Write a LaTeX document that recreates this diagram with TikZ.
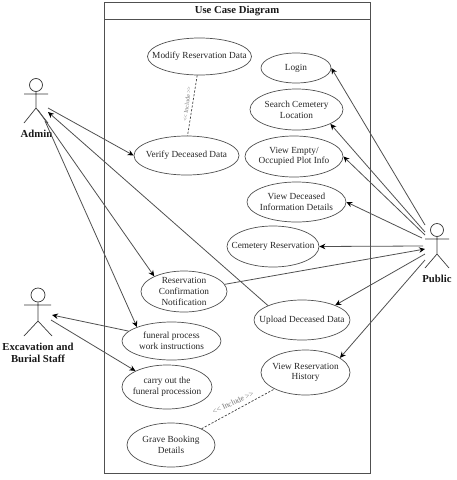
\documentclass[tikz,border=0pt]{standalone}
\usepackage{fontspec}
\setmainfont{Liberation Serif}
\usetikzlibrary{shapes.geometric,arrows.meta}
\definecolor{ln}{HTML}{505050}
\tikzset{
  uc/.style={draw=ln,line width=0.7pt,ellipse,inner sep=0pt},
  uctext/.style={align=center,inner sep=0pt,font=\fontsize{9.3}{10.8}\selectfont,text=black!85},
  actorline/.style={draw=ln!70!black,line width=0.7pt},
  actorname/.style={font=\bfseries\fontsize{10.7}{12}\selectfont,align=center,inner sep=0pt,text=black!90},
  assoc/.style={draw=ln,line width=0.8pt,-{Stealth[length=6pt,width=5.5pt,color=black]}},
  incl/.style={draw=ln!80!black,line width=0.7pt,dash pattern=on 2.2pt off 1.6pt},
  incltext/.style={text=black!55,inner sep=0pt},
}
\newcommand{\ucnode}[6]{\node[uc,minimum width=#3pt,minimum height=#4pt,label={[uctext]center:{#6}}] (#1) at (#2) {};}
\begin{document}
\begin{tikzpicture}[x=1pt,y=-1pt]
\useasboundingbox (0,0) rectangle (457,480);
% system frame
\node[draw=ln,line width=0.8pt,minimum width=266pt,minimum height=470.5pt,inner sep=0pt] (frame) at (237,237.75) {};
\node[draw=ln,line width=0.8pt,minimum width=266pt,minimum height=16.5pt,inner sep=0pt,font=\bfseries\fontsize{10.7}{12}\selectfont,text=black!90] (title) at (237,10.75) {Use Case Diagram};
% use cases
\ucnode{modify}{199.5,56.5}{104}{37}{}{Modify Reservation Data}
\ucnode{login}{296,68}{70}{30}{}{Login}
\ucnode{search}{296.5,109.5}{93}{41}{}{Search Cemetery\\Location}
\ucnode{empty}{294,156.5}{98}{41}{}{View Empty/\\Occupied Plot Info}
\ucnode{deceased}{296.5,202}{99}{40}{}{View Deceased\\Information Details}
\ucnode{cemetery}{273,246.5}{92}{41}{}{Cemetery Reservation}
\ucnode{verify}{186.5,155.5}{105}{39}{}{Verify Deceased Data}
\ucnode{confirm}{184,291.5}{86}{41}{}{Reservation\\Confirmation\\Notification}
\ucnode{instr}{171.5,341}{99}{38}{}{funeral process\\work instructions}
\ucnode{carry}{167,387}{90}{44}{}{carry out the\\funeral procession}
\ucnode{grave}{171,445}{88}{44}{}{Grave Booking\\Details}
\ucnode{upload}{302,320}{96}{40}{}{Upload Deceased Data}
\ucnode{history}{305.5,372.5}{89}{45}{}{View Reservation\\History}
% actors
\node[draw=ln!70!black,line width=0.7pt,circle,minimum size=13pt,inner sep=0pt] (adminhead) at (36,85) {};
\coordinate (adminarmL) at (24,94);
\coordinate (adminarmR) at (48,94);
\coordinate (adminhip) at (36,108);
\coordinate (adminlegL) at (24,123);
\coordinate (adminlegR) at (48,123);
\draw[actorline] (adminhead) -- (adminhip) (adminarmL) -- (adminarmR) (adminlegL) -- (adminhip) -- (adminlegR);
\node[actorname] (adminname) at (36.5,134) {Admin};
\node[draw=ln!70!black,line width=0.7pt,circle,minimum size=14pt,inner sep=0pt] (staffhead) at (38,295) {};
\coordinate (staffarmL) at (24,305);
\coordinate (staffarmR) at (51,305);
\coordinate (staffhip) at (38,321);
\coordinate (stafflegL) at (24,336);
\coordinate (stafflegR) at (52,336);
\draw[actorline] (staffhead) -- (staffhip) (staffarmL) -- (staffarmR) (stafflegL) -- (staffhip) -- (stafflegR);
\node[actorname] (staffname) at (38,353) {Excavation and\\Burial Staff};
\node[draw=ln!70!black,line width=0.7pt,circle,minimum size=13pt,inner sep=0pt] (pubhead) at (437,230) {};
\coordinate (pubarmL) at (425,239);
\coordinate (pubarmR) at (449,239);
\coordinate (pubhip) at (437,254);
\coordinate (publegL) at (425,268);
\coordinate (publegR) at (449,268);
\draw[actorline] (pubhead) -- (pubhip) (pubarmL) -- (pubarmR) (publegL) -- (pubhip) -- (publegR);
\node[actorname] (pubname) at (437,278.5) {Public};
% connector ends at the actors
\coordinate (a1) at (48,108);
\coordinate (a2) at (48,112);
\coordinate (a3) at (38,110);
\coordinate (a4) at (45,121);
\coordinate (s1) at (52,315);
\coordinate (s2) at (51,320);
\coordinate (p1) at (425,225);
\coordinate (p2) at (425,232);
\coordinate (p3) at (425,235);
\coordinate (p4) at (422,238);
\coordinate (p5) at (423,246);
\coordinate (p6) at (425,249);
\coordinate (p7) at (425,254);
\coordinate (p8) at (425,260);
% associations
\draw[assoc] (a1) -- (verify.180);
\draw[assoc] (upload.157) -- (a2);
\draw[assoc] (a3) -- (confirm.153);
\draw[assoc] (a4) -- (instr.158);
\draw[assoc] (instr.167) -- (s1);
\draw[assoc] (s2) -- (carry.153);
\draw[assoc] (p1) -- (login.0);
\draw[assoc] (p2) -- (search.-23);
\draw[assoc] (p3) -- (empty.0);
\draw[assoc] (p4) -- (deceased.0);
\draw[assoc] (p5) -- (cemetery.0);
\draw[assoc] (confirm.10) -- (p6);
\draw[assoc] (p7) -- (upload.24);
\draw[assoc] (p8) -- (history.23);
% includes
\draw[incl] (modify.263) -- (verify.87);
\node[incltext,rotate=83,font=\fontsize{6}{7}\selectfont] (incl1) at (187,104) {<{}< Include >{}>};
\draw[incl] (grave.28) -- (history.208);
\node[incltext,rotate=25,font=\fontsize{7.8}{9}\selectfont] (incl2) at (233,402.5) {<{}< Include >{}>};
\end{tikzpicture}
\end{document}
